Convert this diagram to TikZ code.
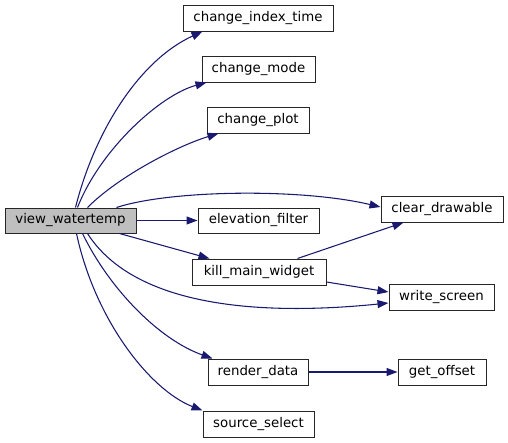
\documentclass[tikz,border=0pt]{standalone}
\usepackage{fontspec}
\setmainfont{DejaVu Sans}
\usetikzlibrary{arrows.meta,calc}
\definecolor{edgeblue}{HTML}{191970}
\definecolor{rootfill}{HTML}{BFBFBF}
\begin{document}
\begin{tikzpicture}[x=0.75pt,y=-0.75pt,
  fn/.style={draw=black!85,line width=0.75pt,fill=white,inner sep=0pt,
    minimum height=19.5pt,font=\fontsize{10pt}{12pt}\selectfont},
  root/.style={fn,fill=rootfill},
  call/.style={draw=edgeblue,line width=0.8pt,
    -{Triangle[length=8.25pt,width=6pt]},fill=none}]
\useasboundingbox (0,0) rectangle (508,443);
\node[root,minimum width=98.25pt,minimum height=18.75pt] (vw) at (70.5,220.5) {view\_watertemp};
\node[fn,minimum width=112.5pt] (cit) at (258,18) {change\_index\_time};
\node[fn,minimum width=84.75pt] (cm) at (258.5,69) {change\_mode};
\node[fn,minimum width=76.5pt] (cp) at (258,120) {change\_plot};
\node[fn,minimum width=91.5pt] (cd) at (442,209) {clear\_drawable};
\node[fn,minimum width=90.75pt,minimum height=18.75pt] (ef) at (258.5,220.5) {elevation\_filter};
\node[fn,minimum width=100.5pt] (kmw) at (259,272) {kill\_main\_widget};
\node[fn,minimum width=78.75pt] (ws) at (441.5,297) {write\_screen};
\node[fn,minimum width=75pt] (rd) at (258,372) {render\_data};
\node[fn,minimum width=66pt] (go) at (442,372) {get\_offset};
\node[fn,minimum width=83.25pt] (ss) at (258.5,424) {source\_select};

\draw[call] ($(vw.north west)+(71,0)$) .. controls (95,130) and (140,60) .. ($(cit.south west)+(20,0)$);
\draw[call] ($(vw.north west)+(73,0)$) .. controls (100,150) and (160,95) .. ($(cm.south west)+(5,0)$);
\draw[call] ($(vw.north west)+(83,0)$) .. controls (120,175) and (180,145) .. ($(cp.south west)+(12,0)$);
\draw[call] ($(vw.north west)+(112,0)$) .. controls (170,190) and (300,188) .. ($(cd.west)+(0,-2)$);
\draw[call] (vw.east) -- (ef.west);
\draw[call] ($(vw.south west)+(115,0)$) -- ($(kmw.north west)+(18,0)$);
\draw[call] ($(vw.south west)+(83,0)$) .. controls (130,300) and (240,318) .. ($(ws.west)+(0,6)$);
\draw[call] ($(vw.south west)+(78,0)$) .. controls (110,290) and (160,340) .. ($(rd.north west)+(5,0)$);
\draw[call] ($(vw.south west)+(72,0)$) .. controls (95,320) and (150,390) .. (ss.north west);
\draw[call] ($(kmw.north west)+(106,0)$) -- ($(cd.south west)+(23,0)$);
\draw[call] ($(kmw.east)+(0,10)$) -- ($(ws.west)+(0,-5)$);
\draw[call] (rd.east) -- (go.west);
\end{tikzpicture}
\end{document}
